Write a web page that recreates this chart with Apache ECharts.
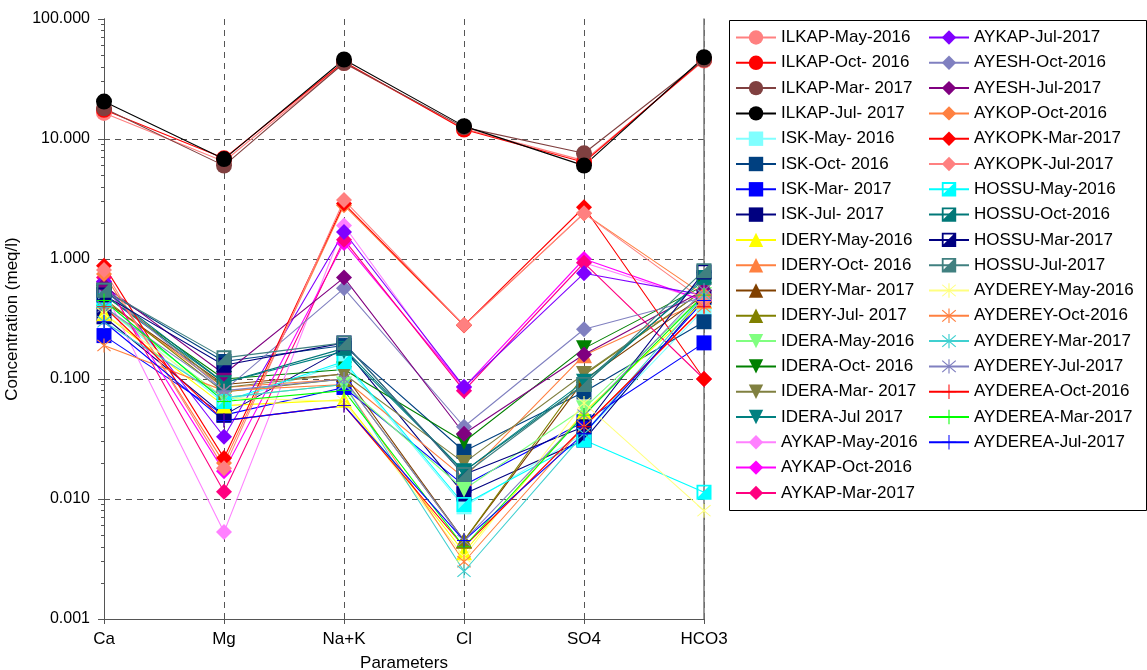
<!DOCTYPE html>
<html>
<head>
<meta charset="utf-8">
<script src="https://cdn.jsdelivr.net/npm/echarts@6/dist/echarts.min.js"></script>
<style>html,body{margin:0;padding:0;background:#fff;}#c{width:1147px;height:670px;}</style>
</head>
<body>
<div id="c"></div>
<script>
// Categories
const categories = ['Ca', 'Mg', 'Na+K', 'Cl', 'SO4', 'HCO3'];
// Y tick labels
const yTickLabels = ['0.001', '0.010', '0.100', '1.000', '10.000', '100.000'];

// Series values [Ca, Mg, Na+K, Cl, SO4, HCO3] (meq/l)
const ILKAP_May_2016   = [16.5, 6.5, 43, 12.2, 6.6, 45];
const ILKAP_Oct_2016   = [17.5, 6.9, 44, 12.0, 6.4, 46];
const ILKAP_Mar_2017   = [18.0, 6.0, 43, 12.5, 7.6, 46];
const ILKAP_Jul_2017   = [20.5, 6.8, 46, 12.8, 6.0, 48];
const ISK_May_2016     = [0.40, 0.063, 0.135, 0.0086, 0.035, 0.38];
const ISK_Oct_2016     = [0.55, 0.14, 0.19, 0.025, 0.078, 0.30];
const ISK_Mar_2017     = [0.23, 0.05, 0.085, 0.013, 0.044, 0.20];
const ISK_Jul_2017     = [0.33, 0.05, 0.18, 0.011, 0.031, 0.48];
const IDERY_May_2016   = [0.35, 0.06, 0.067, 0.0036, 0.053, 0.45];
const IDERY_Oct_2016   = [0.45, 0.085, 0.10, 0.015, 0.158, 0.45];
const IDERY_Mar_2017   = [0.45, 0.09, 0.11, 0.0045, 0.098, 0.50];
const IDERY_Jul_2017   = [0.47, 0.078, 0.10, 0.0045, 0.108, 0.55];
const IDERA_May_2016   = [0.40, 0.07, 0.09, 0.012, 0.057, 0.50];
const IDERA_Oct_2016   = [0.50, 0.10, 0.12, 0.030, 0.18, 0.60];
const IDERA_Mar_2017   = [0.55, 0.085, 0.11, 0.020, 0.11, 0.55];
const IDERA_Jul_2017   = [0.50, 0.093, 0.17, 0.017, 0.095, 0.67];
const AYKAP_May_2016   = [0.55, 0.0053, 1.9, 0.080, 0.93, 0.45];
const AYKAP_Oct_2016   = [0.65, 0.017, 1.36, 0.085, 1.0, 0.45];
const AYKAP_Mar_2017   = [0.70, 0.0115, 1.45, 0.080, 0.93, 0.10];
const AYKAP_Jul_2017   = [0.65, 0.033, 1.68, 0.086, 0.76, 0.50];
const AYESH_Oct_2016   = [0.55, 0.08, 0.57, 0.040, 0.26, 0.48];
const AYESH_Jul_2017   = [0.60, 0.11, 0.70, 0.035, 0.16, 0.55];
const AYKOP_Oct_2016   = [0.75, 0.020, 2.8, 0.28, 2.4, 0.50];
const AYKOPK_Mar_2017  = [0.88, 0.022, 2.9, 0.28, 2.7, 0.10];
const AYKOPK_Jul_2017  = [0.81, 0.018, 3.1, 0.28, 2.4, 0.45];
const HOSSU_May_2016   = [0.45, 0.065, 0.14, 0.009, 0.031, 0.0114];
const HOSSU_Oct_2016   = [0.55, 0.093, 0.18, 0.017, 0.09, 0.70];
const HOSSU_Mar_2017   = [0.50, 0.13, 0.20, 0.016, 0.040, 0.78];
const HOSSU_Jul_2017   = [0.55, 0.15, 0.20, 0.016, 0.09, 0.80];
const AYDEREY_May_2016 = [0.35, 0.07, 0.065, 0.0033, 0.063, 0.008];
const AYDEREY_Oct_2016 = [0.19, 0.08, 0.09, 0.0030, 0.040, 0.40];
const AYDEREY_Mar_2017 = [0.30, 0.07, 0.09, 0.0025, 0.035, 0.50];
const AYDEREY_Jul_2017 = [0.40, 0.08, 0.10, 0.0045, 0.050, 0.55];
const AYDEREA_Oct_2016 = [0.40, 0.045, 0.06, 0.0040, 0.040, 0.40];
const AYDEREA_Mar_2017 = [0.45, 0.065, 0.08, 0.0040, 0.050, 0.50];
const AYDEREA_Jul_2017 = [0.30, 0.045, 0.06, 0.0045, 0.035, 0.45];

const seriesNames = ['ILKAP-May-2016','ILKAP-Oct- 2016','ILKAP-Mar- 2017','ILKAP-Jul- 2017',
 'ISK-May- 2016','ISK-Oct- 2016','ISK-Mar- 2017','ISK-Jul- 2017',
 'IDERY-May-2016','IDERY-Oct- 2016','IDERY-Mar- 2017','IDERY-Jul- 2017',
 'IDERA-May-2016','IDERA-Oct- 2016','IDERA-Mar- 2017','IDERA-Jul 2017',
 'AYKAP-May-2016','AYKAP-Oct-2016','AYKAP-Mar-2017','AYKAP-Jul-2017',
 'AYESH-Oct-2016','AYESH-Jul-2017','AYKOP-Oct-2016','AYKOPK-Mar-2017','AYKOPK-Jul-2017',
 'HOSSU-May-2016','HOSSU-Oct-2016','HOSSU-Mar-2017','HOSSU-Jul-2017',
 'AYDEREY-May-2016','AYDEREY-Oct-2016','AYDEREY-Mar-2017','AYDEREY-Jul-2017',
 'AYDEREA-Oct-2016','AYDEREA-Mar-2017','AYDEREA-Jul-2017'];
const seriesValues = [ILKAP_May_2016, ILKAP_Oct_2016, ILKAP_Mar_2017, ILKAP_Jul_2017,
 ISK_May_2016, ISK_Oct_2016, ISK_Mar_2017, ISK_Jul_2017,
 IDERY_May_2016, IDERY_Oct_2016, IDERY_Mar_2017, IDERY_Jul_2017,
 IDERA_May_2016, IDERA_Oct_2016, IDERA_Mar_2017, IDERA_Jul_2017,
 AYKAP_May_2016, AYKAP_Oct_2016, AYKAP_Mar_2017, AYKAP_Jul_2017,
 AYESH_Oct_2016, AYESH_Jul_2017, AYKOP_Oct_2016, AYKOPK_Mar_2017, AYKOPK_Jul_2017,
 HOSSU_May_2016, HOSSU_Oct_2016, HOSSU_Mar_2017, HOSSU_Jul_2017,
 AYDEREY_May_2016, AYDEREY_Oct_2016, AYDEREY_Mar_2017, AYDEREY_Jul_2017,
 AYDEREA_Oct_2016, AYDEREA_Mar_2017, AYDEREA_Jul_2017];
const seriesColors = ['#FF8080','#FF0000','#804040','#000000',
 '#80FFFF','#004080','#0000FF','#000080',
 '#FFFF00','#FF8040','#804000','#808000',
 '#80FF80','#008000','#808040','#008080',
 '#FF80FF','#FF00FF','#FF0080','#8000FF',
 '#8080C0','#800080','#FF8040','#FF0000','#FF8080',
 '#00FFFF','#007878','#000080','#408080',
 '#FFFF80','#FF8040','#40D0D0','#8080C0',
 '#FF0000','#00FF00','#0000FF'];
const markerKinds = ['c','c','c','c','s','s','s','s','t','t','t','t','d','d','d','d',
 'm','m','m','m','m','m','m','m','m','h','h','h','h','x','x','x','x','p','p','p'];

// Symbol shapes
const HALF_SQ = 'path://M0,0 L20,0 L20,20 L0,20 Z M2.5,2.5 L2.5,16 L16,2.5 Z';
const STAR = 'path://M9.3,0 L10.7,0 L10.7,20 L9.3,20 Z M2.5,1.5 L18.5,17.5 L17.5,18.5 L1.5,2.5 Z M17.5,1.5 L18.5,2.5 L2.5,18.5 L1.5,17.5 Z';
const PLUS = 'path://M9.3,0 L10.7,0 L10.7,20 L9.3,20 Z M0,9.3 L20,9.3 L20,10.7 L0,10.7 Z';
function symFor(k) {
  switch (k) {
    case 'c': return {symbol: 'circle', size: 16, rot: 0};
    case 's': return {symbol: 'rect', size: 15, rot: 0};
    case 't': return {symbol: 'triangle', size: 16, rot: 0};
    case 'd': return {symbol: 'triangle', size: 16, rot: 180};
    case 'm': return {symbol: 'diamond', size: 16, rot: 0};
    case 'h': return {symbol: HALF_SQ, size: 15, rot: 0};
    case 'x': return {symbol: STAR, size: 14, rot: 0};
    case 'p': return {symbol: PLUS, size: 14, rot: 0};
  }
}

// minor tick positions (log10 space)
const minorVals = [];
for (let e = -3; e < 2; e++) {
  for (let m = 2; m <= 9; m++) minorVals.push(Math.log10(m * Math.pow(10, e)));
}

const series = seriesNames.map((name, i) => {
  const s = symFor(markerKinds[i]);
  return {
    name: name,
    type: 'line',
    data: seriesValues[i],
    symbol: s.symbol,
    symbolSize: s.size,
    symbolRotate: s.rot,
    showAllSymbol: true,
    lineStyle: {color: seriesColors[i], width: 1.1},
    itemStyle: {color: seriesColors[i], borderWidth: 0},
    emphasis: {disabled: true},
    animation: false,
    z: 3
  };
});

const font = 'Liberation Sans, Arial, sans-serif';
const legendCommon = {
  orient: 'vertical', padding: 0,
  itemWidth: 40, itemHeight: 18, itemGap: 8.3,
  textStyle: {fontSize: 17, color: '#000', fontFamily: font},
  selectedMode: false
};
const chart = echarts.init(document.getElementById('c'));
chart.setOption({
  animation: false,
  textStyle: {fontFamily: font},
  grid: {left: 104, right: 443, top: 19, bottom: 51, containLabel: false, outerBoundsMode: 'none'},
  graphic: [{
    type: 'rect', left: 727, top: 18,
    shape: {width: 417, height: 490},
    style: {fill: 'none', stroke: '#000', lineWidth: 1}
  }],
  legend: [Object.assign({data: seriesNames.slice(0, 19), left: 735, top: 29}, legendCommon),
           Object.assign({data: seriesNames.slice(19), left: 928, top: 29}, legendCommon)],
  xAxis: {
    type: 'category', data: categories, boundaryGap: false,
    axisLine: {onZero: false, lineStyle: {color: '#555', width: 1}},
    axisTick: {show: true, length: 5, lineStyle: {color: '#555'}},
    axisLabel: {fontSize: 17, color: '#000', margin: 12, fontFamily: font},
    splitLine: {show: true, lineStyle: {color: '#555', type: [6, 5], width: 1}},
    name: 'Parameters', nameLocation: 'middle', nameGap: 36,
    nameTextStyle: {fontSize: 17, color: '#000', fontFamily: font}
  },
  yAxis: [{
    type: 'log', logBase: 10, min: 0.001, max: 100, position: 'left',
    axisLine: {show: true, onZero: false, lineStyle: {color: '#555', width: 1}},
    axisTick: {show: true, length: 6, lineStyle: {color: '#555'}},
    axisLabel: {fontSize: 16, color: '#000', margin: 14, fontFamily: font,
      formatter: v => { const idx = Math.round(Math.log10(v)) + 3; return yTickLabels[idx] !== undefined ? yTickLabels[idx] : v.toFixed(3); }},
    splitLine: {show: true, showMinLine: false, showMaxLine: false, lineStyle: {color: '#555', type: [6, 5], width: 1}},
    name: 'Concentration (meq/l)', nameLocation: 'middle', nameGap: 72,
    nameTextStyle: {fontSize: 17, color: '#000', fontFamily: font}
  }, {
    type: 'value', min: -3, max: 2, position: 'left',
    axisLine: {show: true, onZero: false, lineStyle: {color: '#555', width: 1}},
    axisTick: {show: true, length: 3, customValues: minorVals, lineStyle: {color: '#555'}},
    axisLabel: {show: false},
    splitLine: {show: false}
  }, {
    type: 'log', logBase: 10, min: 0.001, max: 100, position: 'right',
    axisLine: {show: true, onZero: false, lineStyle: {color: '#777', width: 1.5}},
    axisTick: {show: false}, axisLabel: {show: false}, splitLine: {show: false}
  }],
  series: series
});
</script>
</body>
</html>
